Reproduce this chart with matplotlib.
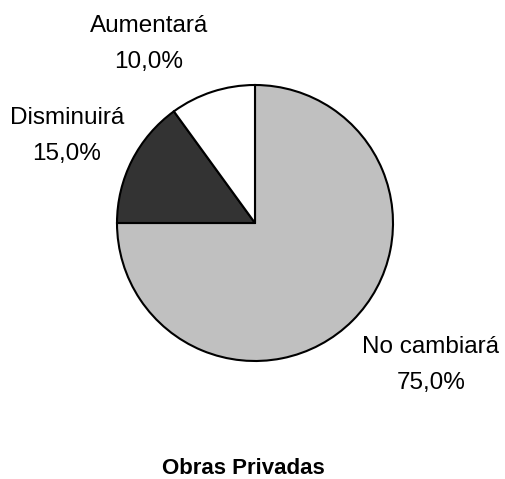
import matplotlib.pyplot as plt

plt.rcParams['font.family'] = ['Liberation Sans', 'DejaVu Sans']

# data
categories = ['No cambiará', 'Disminuirá', 'Aumentará']
shares = [75.0, 15.0, 10.0]
colors = ['#C0C0C0', '#333333', '#FFFFFF']
title = 'Obras Privadas'

# label block centres in pixel coords (y down)
label_pos = [(431, 365), (67, 136), (149, 44)]

W, H = 505, 479
fig = plt.figure(figsize=(W / 100, H / 100), dpi=100)
ax = fig.add_axes([0, 0, 1, 1])

ax.pie(shares, colors=colors, startangle=90, counterclock=False,
       center=(255, H - 223), radius=138, frame=True,
       wedgeprops=dict(edgecolor='black', linewidth=1.5))
ax.set_xlim(0, W)
ax.set_ylim(0, H)
ax.set_aspect('equal')
ax.axis('off')

for name, val, (x, y) in zip(categories, shares, label_pos):
    txt = f"{name}\n{val:.1f}%".replace('.', ',')
    ax.text(x, H - y, txt, ha='center', va='center', fontsize=17.5,
            linespacing=1.8, color='black')

ax.text(243, H - 469, title, ha='center', va='center', fontsize=16,
        fontweight='bold')

fig.savefig('out.png', dpi=100)
